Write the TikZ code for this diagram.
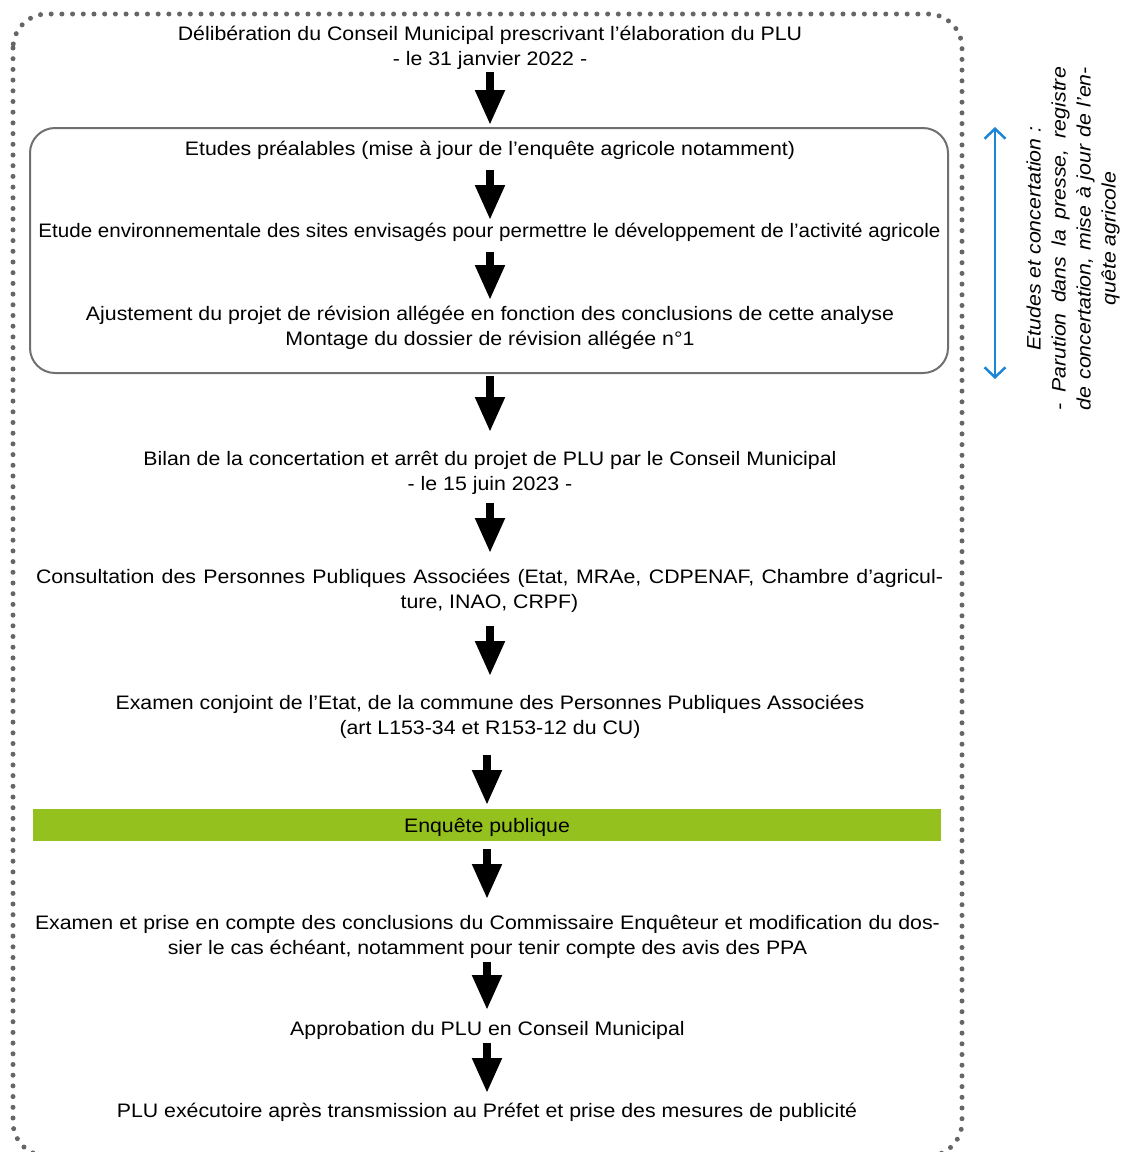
\documentclass[tikz,border=0pt]{standalone}
\usepackage{fontspec}
\usepackage{graphicx}
\setmainfont{Liberation Sans}[FakeStretch=1.093]
\usetikzlibrary{arrows.meta}
\definecolor{dotgray}{HTML}{666666}
\definecolor{boxgray}{HTML}{707070}
\definecolor{pgreen}{HTML}{95C11F}
\definecolor{pblue}{HTML}{1C86D6}
\newcommand{\topstrut}{\rule{0pt}{19pt}}
\newcommand{\botstrut}{\rule[-4pt]{0pt}{4pt}}
\begin{document}
\begin{tikzpicture}[x=1pt,y=-1pt,
  txt/.style={inner sep=0pt, outer sep=0pt, anchor=north, align=center, font=\fontsize{19.5}{25.3}\selectfont},
  bigarrow/.style={line width=8pt, -{Triangle[width=28pt,length=35pt]}},
  bluearrow/.style={pblue, line width=2.5pt, {Straight Barb[length=10pt,width=21pt]}-{Straight Barb[length=10pt,width=21pt]}},
  frame/.style={dotgray, line width=5pt, line cap=round, dash pattern=on 0pt off 10.7pt, rounded corners=34pt},
  groupbox/.style={draw=boxgray, line width=2pt, rounded corners=25pt, inner sep=0pt, outer sep=0pt},
  greenbar/.style={fill=pgreen, inner sep=0pt, outer sep=0pt, font=\fontsize{19.5}{25.3}\selectfont, text height=14pt, text depth=0pt},
  sidetext/.style={rotate=90, inner sep=0pt, align=center, font=\fontsize{19.5}{25}\selectfont\itshape}
 ]
\useasboundingbox (0,0) rectangle (1122,1152);
\draw[frame] (13,14) rectangle (962,1156);

\node[txt] (n1) at (490,21) {\topstrut Délibération du Conseil Municipal prescrivant l’élaboration du PLU\\- le 31 janvier 2022 -\botstrut};
\node[groupbox, minimum width=918pt, minimum height=245pt] (box) at (489,250.5) {};
\node[txt] (n2) at (490,136) {\topstrut Etudes préalables (mise à jour de l’enquête agricole notamment)\botstrut};
\node[txt] (n3) at (489.5,218) {\topstrut\scalebox{0.965}[1]{Etude environnementale des sites envisagés pour permettre le développement de l’activité agricole}\botstrut};
\node[txt] (n4) at (490,301) {\topstrut Ajustement du projet de révision allégée en fonction des conclusions de cette analyse\\Montage du dossier de révision allégée n°1\botstrut};
\node[txt] (n5) at (490,446) {\topstrut Bilan de la concertation et arrêt du projet de PLU par le Conseil Municipal\\- le 15 juin 2023 -\botstrut};
\node[txt] (n6) at (489.5,564.5) {\topstrut\makebox[907pt][s]{Consultation des Personnes Publiques Associées (Etat, MRAe, CDPENAF, Chambre d’agricul-}\\ture, INAO, CRPF)\botstrut};
\node[txt] (n7) at (490,690.5) {\topstrut Examen conjoint de l’Etat, de la commune des Personnes Publiques Associées\\(art L153-34 et R153-12 du CU)\botstrut};
\node[greenbar, minimum width=908pt, minimum height=32pt] (bar) at (487,825) {Enquête publique};
\node[txt] (n9) at (487.5,910) {\topstrut\makebox[905pt][s]{Examen et prise en compte des conclusions du Commissaire Enquêteur et modification du dos-}\\sier le cas échéant, notamment pour tenir compte des avis des PPA\botstrut};
\node[txt] (n10) at (487.5,1016) {\topstrut Approbation du PLU en Conseil Municipal\botstrut};
\node[txt] (n11) at (487,1098) {\topstrut PLU exécutoire après transmission au Préfet et prise des mesures de publicité\botstrut};

\draw[bigarrow, shorten <=2.7pt, shorten >=3pt] (n1.south) -- (n1.south |- box.north);
\draw[bigarrow, shorten <=11pt, shorten >=-2pt] (n2.south) -- (n2.south |- n3.north);
\draw[bigarrow, shorten <=11pt, shorten >=1pt] (n2.south |- n3.south) -- (n4.north);
\draw[bigarrow, shorten <=3pt, shorten >=14pt] (n5.north |- box.south) -- (n5.north);
\draw[bigarrow, shorten <=8.7pt, shorten >=11.5pt] (n5.south) -- (n5.south |- n6.north);
\draw[bigarrow, shorten <=13.2pt, shorten >=14.5pt] (n5.south |- n6.south) -- (n7.north);
\draw[bigarrow, shorten <=16.2pt, shorten >=4pt] (n7.south -| bar.north) -- (bar.north);
\draw[bigarrow, shorten <=8pt, shorten >=11pt] (bar.south) -- (bar.south |- n9.north);
\draw[bigarrow, shorten <=3.7pt, shorten >=6pt] (n9.south -| bar.south) -- (bar.south |- n10.north);
\draw[bigarrow, shorten <=4pt, shorten >=5pt] (n10.south -| bar.south) -- (bar.south |- n11.north);

\coordinate (btop) at (995,127);
\coordinate (bbot) at (995,379);
\draw[bluearrow] (btop) -- (bbot);

\node[sidetext] (side) at (1073,238.5) {Etudes et concertation :\\\makebox[343pt][s]{- Parution dans la presse, registre}\\\makebox[343pt][s]{de concertation, mise à jour de l’en-}\\quête agricole};
\end{tikzpicture}
\end{document}
